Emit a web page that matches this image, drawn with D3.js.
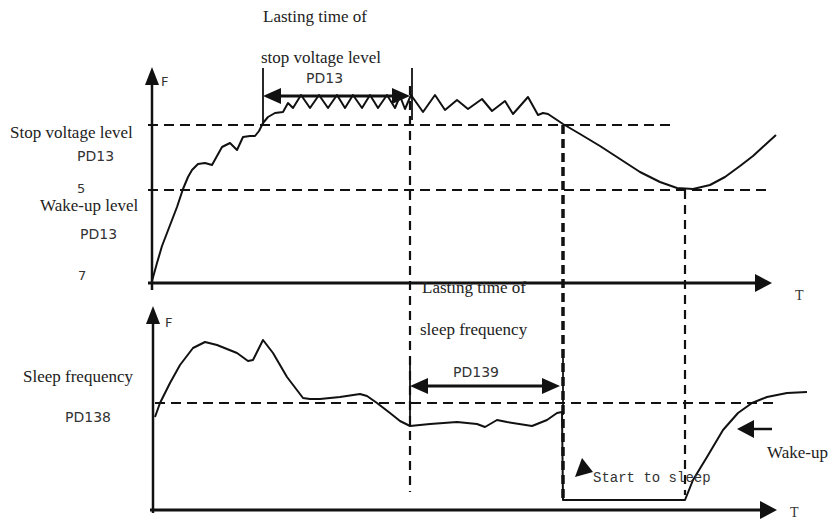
<!DOCTYPE html>
<html><head><meta charset="utf-8">
<script src="https://cdn.jsdelivr.net/npm/d3@7"></script>
<style>body{margin:0;background:#fff}svg{display:block}</style>
</head><body>
<svg id="c" width="829" height="522"></svg>
<script>
// ---- data (time units t, frequency units F) ----
const topCurveT = [0,5,10,15,25,31,36,40,46,53,60,65,70,78,85,91,98,103,107,111,116,123,131,136,141,149,158,167,176,185,193,201,210,218,226,235,243,248,253,259,271,283,293,305,316,330,340,353,361,376,386,391,396,411,428,448,468,488,508,525,541,558,573,588,601,613,624];
const topCurveF = [2,20,37,50,76,94,106,113,119,120,118,127,136,140,133,146,147,147,152,160,166,170,171,180,175,188,175,188,175,188,175,188,175,188,175,188,175,187,174,188,171,188,173,183,174,184,172,182,169,186,168,170,169,159,149,137,124,111,101,95,94,98,106,117,127,138,148];
const botCurveT = [3,8,18,28,41,53,65,85,96,101,111,121,135,151,158,168,188,208,215,225,238,248,258,278,305,325,333,345,355,380,395,405,410,411,533,541,555,571,586,600,615,635,655];
const botCurveF = [93,107,127,145,162,168,165,157,149,150,170,157,133,112,111,111,113,116,114,107,97,89,84,86,88,86,83,90,88,84,90,97,98,10,10,30,53,80,97,107,113,117,118];
const stopLevel = 158, wakeLevel = 93, sleepLevel = 107;
const tStopStart = 111, tStopEnd = 258, tSleepStart = 411, tWake = 533, tPD139End = 408;
const textTop = ["Lasting time of","stop voltage level","PD13","Stop voltage level","PD13","5","Wake-up level","PD13","7"];
const textBot = ["Lasting time of","sleep frequency","PD139","Sleep frequency","PD138","Start to sleep","Wake-up"];

const svg = d3.select("#c");
const x = d3.scaleLinear().domain([0,625]).range([152,777]);
const yT = d3.scaleLinear().domain([0,215]).range([283,68]);
const yB = d3.scaleLinear().domain([0,204]).range([510,306]);
const ink = "#111";
const serif = "'Liberation Serif','Times New Roman',serif";
const sans = "'DejaVu Sans',sans-serif";

function line(x1,y1,x2,y2,w,dash){
  const l = svg.append("line").attr("x1",x1).attr("y1",y1).attr("x2",x2).attr("y2",y2)
    .attr("stroke",ink).attr("stroke-width",w);
  if(dash) l.attr("stroke-dasharray",dash);
  return l;
}
function tri(pts){ svg.append("path").attr("d","M"+pts.map(p=>p.join(",")).join("L")+"Z").attr("fill",ink); }
function txt(s,px,py,font,size,col){
  svg.append("text").attr("x",px).attr("y",py).attr("font-family",font).attr("font-size",size)
    .attr("fill",col||"#222").text(s);
}

// dashed reference lines
line(148, yT(stopLevel), 676, yT(stopLevel), 2, "10,6");
line(148, yT(wakeLevel), 770, yT(wakeLevel), 2, "10,6");
line(155, yB(sleepLevel), 777, yB(sleepLevel), 2, "10,6");
line(x(tStopEnd), 86, x(tStopEnd), 492, 2.2, "9,6");
line(x(tSleepStart), yT(stopLevel), x(tSleepStart), 500, 3.5, "9,5");
line(x(tWake), yT(wakeLevel), x(tWake), 495, 2.2, "9,6");

// axes
line(x(0), 290, x(0), 80, 2.5);
tri([[x(0),67],[x(0)-7,85],[x(0)+7,85]]);
line(148, yT(0), 760, yT(0), 2.8);
tri([[772,yT(0)],[755,yT(0)-9],[755,yT(0)+9]]);
line(x(1), 513, x(1), 318, 2.5);
tri([[x(1),306],[x(1)-7,324],[x(1)+7,324]]);
line(150, yB(0), 765, yB(0), 2.8);
tri([[777,yB(0)],[760,yB(0)-9],[760,yB(0)+9]]);

// curves
const lnT = d3.line().x(d=>x(d[0])).y(d=>yT(d[1])).curve(d3.curveLinear);
const lnB = d3.line().x(d=>x(d[0])).y(d=>yB(d[1])).curve(d3.curveLinear);
svg.append("path").attr("d", lnT(topCurveT.map((t,i)=>[t,topCurveF[i]])))
  .attr("fill","none").attr("stroke",ink).attr("stroke-width",2).attr("stroke-linejoin","round");
svg.append("path").attr("d", lnB(botCurveT.map((t,i)=>[t,botCurveF[i]])))
  .attr("fill","none").attr("stroke",ink).attr("stroke-width",2).attr("stroke-linejoin","round");

// brackets and double arrows
line(x(tStopStart), 68, x(tStopStart), yT(stopLevel), 1.8);
line(x(tStopEnd)+2, 68, x(tStopEnd)+2, 120, 1.8);
const ay = 96;
line(x(tStopStart)+10, ay, x(tStopEnd)-10, ay, 3);
tri([[x(tStopStart),ay],[x(tStopStart)+18,ay-8],[x(tStopStart)+18,ay+8]]);
tri([[x(tStopEnd),ay],[x(tStopEnd)-18,ay-8],[x(tStopEnd)-18,ay+8]]);

line(x(tStopEnd), 358, x(tStopEnd), 426, 1.8);
line(x(tPD139End)+3, 358, x(tPD139End)+3, 415, 1.8);
const by = 386;
line(x(tStopEnd)+10, by, x(tPD139End)-10, by, 3);
tri([[x(tStopEnd),by],[x(tStopEnd)+18,by-8],[x(tStopEnd)+18,by+8]]);
tri([[x(tPD139End),by],[x(tPD139End)-18,by-8],[x(tPD139End)-18,by+8]]);

// small pointer arrows
tri([[582,458],[575,477],[593,472]]);
line(750, 429, 772, 429, 2.5);
tri([[737,429],[754,420],[754,438]]);

// texts
txt(textTop[0], 263, 22, serif, 17);
txt(textTop[1], 261, 63, serif, 17);
txt(textTop[2], 306, 83, sans, 14, "#333");
txt(textTop[3], 10, 138, serif, 17);
txt(textTop[4], 77, 161, sans, 14, "#333");
txt(textTop[5], 77, 193, sans, 13, "#333");
txt(textTop[6], 40, 211, serif, 17);
txt(textTop[7], 80, 239, sans, 14, "#333");
txt(textTop[8], 78, 280, sans, 13, "#333");
txt("F", 161, 86, sans, 13, "#333");
txt("T", 795, 300, serif, 14, "#333");

txt(textBot[0], 422, 293, serif, 17);
txt(textBot[1], 420, 335, serif, 17);
txt(textBot[2], 453, 377, sans, 14, "#333");
txt(textBot[3], 23, 382, serif, 17);
txt(textBot[4], 65, 422, sans, 14, "#333");
txt(textBot[5], 593, 482, "'Liberation Mono','Courier New',monospace", 14, "#333");
txt(textBot[6], 767, 458, serif, 17);
txt("F", 165, 327, sans, 13, "#333");
txt("T", 790, 517, serif, 14, "#333");
</script>
</body></html>
